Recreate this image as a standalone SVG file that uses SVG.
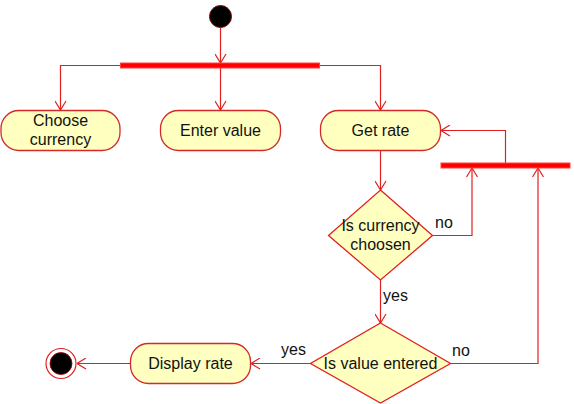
<svg xmlns="http://www.w3.org/2000/svg" width="574" height="404" viewBox="0 0 574 404">
<defs>
<style>
.act{fill:#ffffc0;stroke:#d42a2a;stroke-width:1.3}
.dec{fill:#ffffc0;stroke:#e02020;stroke-width:1.3}
.bar{fill:#ff0000;stroke:#ff4040;stroke-width:1}
.ln{fill:none;stroke:#e02020;stroke-width:1.2}
text{font-family:"Liberation Sans",Arial,sans-serif;font-size:16px;fill:#111}
.c{text-anchor:middle}
</style>
<marker id="ah" viewBox="0 0 10 12" refX="10" refY="6" markerWidth="10" markerHeight="12" markerUnits="userSpaceOnUse" orient="auto">
<path d="M1,0.5 L10,6 L1,11.5" fill="none" stroke="#e02020" stroke-width="1.2"/>
</marker>
</defs>
<rect width="574" height="404" fill="#ffffff"/>
<g id="connectors">
<path class="ln" d="M220.5,28 V63" marker-end="url(#ah)"/>
<path class="ln" d="M120,65.5 H60.5 V110" marker-end="url(#ah)"/>
<path class="ln" d="M220.5,68 V110" marker-end="url(#ah)"/>
<path class="ln" d="M320,65.5 H380.5 V110" marker-end="url(#ah)"/>
<path class="ln" d="M380.5,150 V190" marker-end="url(#ah)"/>
<path class="ln" d="M505.5,163 V130.5 H441" marker-end="url(#ah)"/>
<path class="ln" d="M432,235.5 H472 V168" marker-end="url(#ah)"/>
<path class="ln" d="M380.5,280 V323" marker-end="url(#ah)"/>
<path class="ln" d="M450,363.5 H538 V168" marker-end="url(#ah)"/>
<path class="ln" d="M311,363.5 H251" marker-end="url(#ah)"/>
<path class="ln" d="M130,363.5 H77" marker-end="url(#ah)"/>
<text x="435" y="228">no</text>
<text x="383" y="301">yes</text>
<text x="452" y="356">no</text>
<text x="281" y="355">yes</text>
</g>
<g id="start"><circle cx="220.5" cy="16.5" r="11" fill="#000" stroke="#a00000" stroke-width="1"/></g>
<g id="fork"><rect class="bar" x="120.5" y="63" width="199" height="5"/></g>
<g id="choose-currency"><rect class="act" x="1" y="110.5" width="119" height="40" rx="18"/><text class="c" x="60.5" y="126">Choose</text><text class="c" x="60.5" y="145">currency</text></g>
<g id="enter-value"><rect class="act" x="160.5" y="110.5" width="120" height="40" rx="18"/><text class="c" x="220.5" y="136">Enter value</text></g>
<g id="get-rate"><rect class="act" x="320.5" y="110.5" width="120" height="40" rx="18"/><text class="c" x="380.5" y="136">Get rate</text></g>
<g id="join"><rect class="bar" x="441" y="163" width="129" height="5"/></g>
<g id="is-currency-choosen"><polygon class="dec" points="380.5,190 432.5,235.5 380.5,280 328.5,235.5"/><text class="c" x="380.5" y="231">Is currency</text><text class="c" x="380.5" y="250">choosen</text></g>
<g id="is-value-entered"><polygon class="dec" points="380.5,323 450.5,363.5 380.5,403 310.5,363.5"/><text class="c" x="380.5" y="369">Is value entered</text></g>
<g id="display-rate"><rect class="act" x="130.5" y="343.5" width="120" height="40" rx="18"/><text class="c" x="190.5" y="369">Display rate</text></g>
<g id="end"><circle cx="61" cy="363.5" r="15" fill="#fff" stroke="#e02020" stroke-width="1.2"/><circle cx="61" cy="363.5" r="11" fill="#000" stroke="#a00000" stroke-width="0.8"/></g>
</svg>
